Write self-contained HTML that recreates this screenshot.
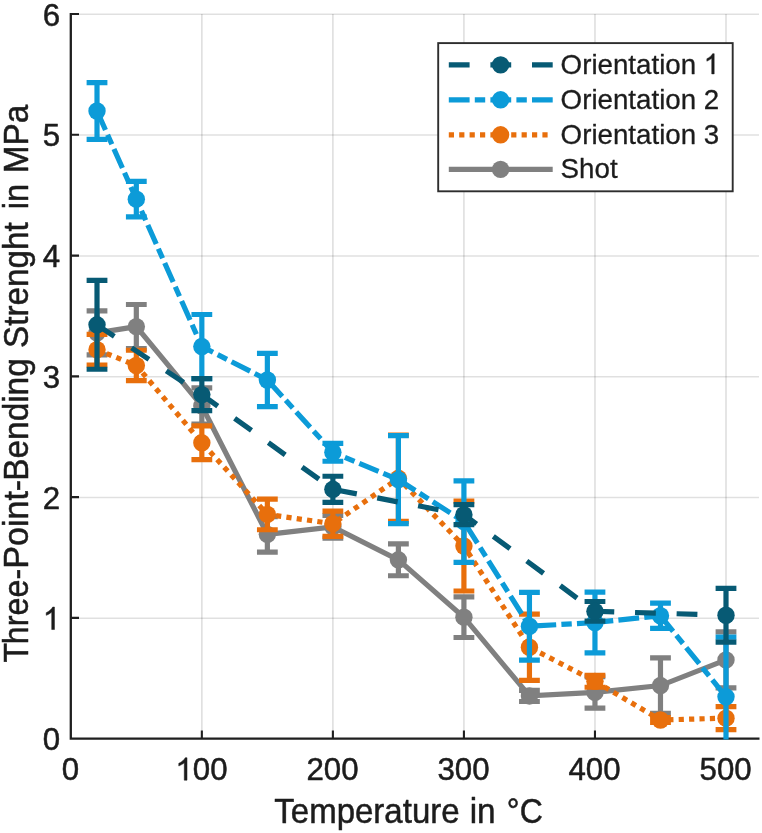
<!DOCTYPE html>
<html><head><meta charset="utf-8"><title>Three-Point-Bending Strength</title>
<style>html,body{margin:0;padding:0;background:#fff;}body{width:762px;height:833px;overflow:hidden;font-family:"Liberation Sans",sans-serif;}</style>
</head><body>
<svg width="762" height="833" viewBox="0 0 762 833" style="display:block">
<rect width="762" height="833" fill="#fff"/>
<defs><filter id="soft" x="0" y="0" width="100%" height="100%" filterUnits="userSpaceOnUse" color-interpolation-filters="sRGB"><feGaussianBlur stdDeviation="0.45"/></filter></defs>
<style>text{stroke:#1c1c1c;stroke-width:0.5px;stroke-linejoin:round}</style>
<g filter="url(#soft)">
<rect width="762" height="833" fill="#fff"/>
<path d="M201.84 14.00V738.70M332.88 14.00V738.70M463.92 14.00V738.70M594.96 14.00V738.70M726.00 14.00V738.70" stroke="#000" stroke-opacity="0.12" stroke-width="1.7" fill="none"/>
<path d="M70.80 618.22H759.00M70.80 497.44H759.00M70.80 376.66H759.00M70.80 255.88H759.00M70.80 135.10H759.00M70.80 14.32H759.00" stroke="#000" stroke-opacity="0.12" stroke-width="1.5" fill="none"/>
<path d="M70.80 13.00V739.70M69.80 738.70H759.50" stroke="#1f1f1f" stroke-width="2.3" fill="none"/>
<path d="M201.84 738.70v-8.2M332.88 738.70v-8.2M463.92 738.70v-8.2M594.96 738.70v-8.2M726.00 738.70v-8.2M70.80 617.92h8.2M70.80 497.14h8.2M70.80 376.36h8.2M70.80 255.58h8.2M70.80 134.80h8.2M70.80 14.02h8.2" stroke="#1f1f1f" stroke-width="2.1" fill="none"/>
<clipPath id="c"><rect x="69.80" y="13.00" width="690.20" height="726.60"/></clipPath>
<g clip-path="url(#c)">
<polyline points="97.01,332.88 136.32,326.60 201.84,405.95 267.36,534.34 332.88,526.85 398.40,559.82 463.92,617.20 529.44,695.94 594.96,692.44 660.48,685.56 726.00,659.95" fill="none" stroke="#808080" stroke-width="5.2"/>
<path d="M97.01 310.90V354.86M86.61 310.90h20.80M86.61 354.86h20.80M136.32 304.50V348.70M125.92 304.50h20.80M125.92 348.70h20.80M201.84 387.83V424.07M191.44 387.83h20.80M191.44 424.07h20.80M267.36 516.59V552.09M256.96 516.59h20.80M256.96 552.09h20.80M332.88 515.50V538.21M322.48 515.50h20.80M322.48 538.21h20.80M398.40 543.88V575.77M388.00 543.88h20.80M388.00 575.77h20.80M463.92 596.90V637.49M453.52 596.90h20.80M453.52 637.49h20.80M529.44 690.39V701.50M519.04 690.39h20.80M519.04 701.50h20.80M594.96 676.74V708.14M584.56 676.74h20.80M584.56 708.14h20.80M660.48 657.78V713.34M650.08 657.78h20.80M650.08 713.34h20.80M726.00 631.93V687.97M715.60 631.93h20.80M715.60 687.97h20.80" stroke="#808080" stroke-width="5.2" fill="none"/>
<circle cx="97.01" cy="332.88" r="8.7" fill="#808080"/>
<circle cx="136.32" cy="326.60" r="8.7" fill="#808080"/>
<circle cx="201.84" cy="405.95" r="8.7" fill="#808080"/>
<circle cx="267.36" cy="534.34" r="8.7" fill="#808080"/>
<circle cx="332.88" cy="526.85" r="8.7" fill="#808080"/>
<circle cx="398.40" cy="559.82" r="8.7" fill="#808080"/>
<circle cx="463.92" cy="617.20" r="8.7" fill="#808080"/>
<circle cx="529.44" cy="695.94" r="8.7" fill="#808080"/>
<circle cx="594.96" cy="692.44" r="8.7" fill="#808080"/>
<circle cx="660.48" cy="685.56" r="8.7" fill="#808080"/>
<circle cx="726.00" cy="659.95" r="8.7" fill="#808080"/>
<polyline points="97.01,349.67 136.32,365.49 201.84,442.79 267.36,514.41 332.88,523.71 398.40,478.30 463.92,546.06 529.44,647.27 594.96,681.33 660.48,719.98 726.00,718.17" fill="none" stroke="#e86f0c" stroke-width="5.2" stroke-dasharray="5.200 5.200"/>
<path d="M97.01 334.33V365.01M86.61 334.33h20.80M86.61 365.01h20.80M136.32 350.27V380.71M125.92 350.27h20.80M125.92 380.71h20.80M201.84 425.88V459.70M191.44 425.88h20.80M191.44 459.70h20.80M267.36 499.07V529.75M256.96 499.07h20.80M256.96 529.75h20.80M332.88 511.03V536.39M322.48 511.03h20.80M322.48 536.39h20.80M398.40 435.18V521.42M388.00 435.18h20.80M388.00 521.42h20.80M463.92 501.13V590.99M453.52 501.13h20.80M453.52 590.99h20.80M529.44 614.18V680.36M519.04 614.18h20.80M519.04 680.36h20.80M594.96 675.41V687.25M584.56 675.41h20.80M584.56 687.25h20.80M660.48 717.56V722.39M650.08 717.56h20.80M650.08 722.39h20.80M726.00 706.69V729.64M715.60 706.69h20.80M715.60 729.64h20.80" stroke="#e86f0c" stroke-width="5.2" fill="none"/>
<circle cx="97.01" cy="349.67" r="8.7" fill="#e86f0c"/>
<circle cx="136.32" cy="365.49" r="8.7" fill="#e86f0c"/>
<circle cx="201.84" cy="442.79" r="8.7" fill="#e86f0c"/>
<circle cx="267.36" cy="514.41" r="8.7" fill="#e86f0c"/>
<circle cx="332.88" cy="523.71" r="8.7" fill="#e86f0c"/>
<circle cx="398.40" cy="478.30" r="8.7" fill="#e86f0c"/>
<circle cx="463.92" cy="546.06" r="8.7" fill="#e86f0c"/>
<circle cx="529.44" cy="647.27" r="8.7" fill="#e86f0c"/>
<circle cx="594.96" cy="681.33" r="8.7" fill="#e86f0c"/>
<circle cx="660.48" cy="719.98" r="8.7" fill="#e86f0c"/>
<circle cx="726.00" cy="718.17" r="8.7" fill="#e86f0c"/>
<polyline points="97.01,111.01 136.32,199.18 201.84,346.53 267.36,379.98 332.88,452.33 398.40,479.63 463.92,521.66 529.44,626.25 594.96,622.51 660.48,615.75 726.00,696.79" fill="none" stroke="#0c9bd8" stroke-width="5.2" stroke-dasharray="20.800 5.200 10.400 5.200"/>
<path d="M97.01 82.62V139.39M86.61 82.62h20.80M86.61 139.39h20.80M136.32 181.42V216.93M125.92 181.42h20.80M125.92 216.93h20.80M201.84 314.52V378.53M191.44 314.52h20.80M191.44 378.53h20.80M267.36 353.41V406.56M256.96 353.41h20.80M256.96 406.56h20.80M332.88 443.39V461.27M322.48 443.39h20.80M322.48 461.27h20.80M398.40 435.54V523.71M388.00 435.54h20.80M388.00 523.71h20.80M463.92 480.96V562.36M453.52 480.96h20.80M453.52 562.36h20.80M529.44 592.44V660.07M519.04 592.44h20.80M519.04 660.07h20.80M594.96 592.07V652.95M584.56 592.07h20.80M584.56 652.95h20.80M660.48 603.06V628.43M650.08 603.06h20.80M650.08 628.43h20.80M726.00 637.12V756.45M715.60 637.12h20.80M715.60 756.45h20.80" stroke="#0c9bd8" stroke-width="5.2" fill="none"/>
<circle cx="97.01" cy="111.01" r="8.7" fill="#0c9bd8"/>
<circle cx="136.32" cy="199.18" r="8.7" fill="#0c9bd8"/>
<circle cx="201.84" cy="346.53" r="8.7" fill="#0c9bd8"/>
<circle cx="267.36" cy="379.98" r="8.7" fill="#0c9bd8"/>
<circle cx="332.88" cy="452.33" r="8.7" fill="#0c9bd8"/>
<circle cx="398.40" cy="479.63" r="8.7" fill="#0c9bd8"/>
<circle cx="463.92" cy="521.66" r="8.7" fill="#0c9bd8"/>
<circle cx="529.44" cy="626.25" r="8.7" fill="#0c9bd8"/>
<circle cx="594.96" cy="622.51" r="8.7" fill="#0c9bd8"/>
<circle cx="660.48" cy="615.75" r="8.7" fill="#0c9bd8"/>
<circle cx="726.00" cy="696.79" r="8.7" fill="#0c9bd8"/>
<polyline points="97.01,324.79 201.84,394.60 332.88,489.29 463.92,514.65 594.96,611.28 726.00,615.26" fill="none" stroke="#075a74" stroke-width="5.2" stroke-dasharray="20.800 20.800"/>
<path d="M97.01 280.34V369.23M86.61 280.34h20.80M86.61 369.23h20.80M201.84 378.65V410.54M191.44 378.65h20.80M191.44 410.54h20.80M332.88 476.25V502.33M322.48 476.25h20.80M322.48 502.33h20.80M463.92 504.63V524.68M453.52 504.63h20.80M453.52 524.68h20.80M594.96 601.49V621.06M584.56 601.49h20.80M584.56 621.06h20.80M726.00 588.33V642.20M715.60 588.33h20.80M715.60 642.20h20.80" stroke="#075a74" stroke-width="5.2" fill="none"/>
<circle cx="97.01" cy="324.79" r="8.7" fill="#075a74"/>
<circle cx="201.84" cy="394.60" r="8.7" fill="#075a74"/>
<circle cx="332.88" cy="489.29" r="8.7" fill="#075a74"/>
<circle cx="463.92" cy="514.65" r="8.7" fill="#075a74"/>
<circle cx="594.96" cy="611.28" r="8.7" fill="#075a74"/>
<circle cx="726.00" cy="615.26" r="8.7" fill="#075a74"/>
</g>
<g font-family="'Liberation Sans', sans-serif" font-size="31.25px" fill="#1c1c1c">
<text x="70.40" y="780.2" text-anchor="middle">0</text>
<text x="201.44" y="780.2" text-anchor="middle"><tspan style="fill:none;stroke:none">1</tspan>00</text>
<text x="332.48" y="780.2" text-anchor="middle">200</text>
<text x="463.52" y="780.2" text-anchor="middle">300</text>
<text x="594.56" y="780.2" text-anchor="middle">400</text>
<text x="725.60" y="780.2" text-anchor="middle">500</text>
<text x="60.2" y="750.30" text-anchor="end">0</text>
<text x="60.2" y="629.52" text-anchor="end"><tspan style="fill:none;stroke:none">1</tspan></text>
<text x="60.2" y="508.74" text-anchor="end">2</text>
<text x="60.2" y="387.96" text-anchor="end">3</text>
<text x="60.2" y="267.18" text-anchor="end">4</text>
<text x="60.2" y="146.40" text-anchor="end">5</text>
<text x="60.2" y="25.62" text-anchor="end">6</text>
</g>
<path transform="translate(175.37 780.20) scale(0.015259 -0.015259)" d="M763 0H583V1147Q518 1085 412.5 1023T223 930V1104Q374 1175 487 1276T647 1472H763Z" fill="#1c1c1c" stroke="#1c1c1c" stroke-width="32.8" stroke-linejoin="round"/>
<path transform="translate(42.82 629.52) scale(0.015259 -0.015259)" d="M763 0H583V1147Q518 1085 412.5 1023T223 930V1104Q374 1175 487 1276T647 1472H763Z" fill="#1c1c1c" stroke="#1c1c1c" stroke-width="32.8" stroke-linejoin="round"/>
<text transform="translate(274.28 823.00) scale(0.9609 1)" font-family="'Liberation Sans', sans-serif" font-size="34.375px" fill="#1c1c1c">Temperature</text>
<text transform="translate(469.72 823.00) scale(0.9689 1)" font-family="'Liberation Sans', sans-serif" font-size="34.375px" fill="#1c1c1c">in</text>
<text transform="translate(506.84 823.00) scale(0.9305 1)" font-family="'Liberation Sans', sans-serif" font-size="34.375px" fill="#1c1c1c">°C</text>
<text transform="translate(27.80 662.60) rotate(-90) scale(0.9282 1)" font-family="'Liberation Sans', sans-serif" font-size="34.375px" fill="#1c1c1c">T</text>
<text transform="translate(27.80 644.21) rotate(-90) scale(0.9399 1)" font-family="'Liberation Sans', sans-serif" font-size="34.375px" fill="#1c1c1c">hree-</text>
<text transform="translate(27.80 568.72) rotate(-90) scale(0.9906 1)" font-family="'Liberation Sans', sans-serif" font-size="34.375px" fill="#1c1c1c">Point-</text>
<text transform="translate(27.80 480.77) rotate(-90) scale(0.9715 1)" font-family="'Liberation Sans', sans-serif" font-size="34.375px" fill="#1c1c1c">Bending</text>
<text transform="translate(27.80 347.95) rotate(-90) scale(0.9684 1)" font-family="'Liberation Sans', sans-serif" font-size="34.375px" fill="#1c1c1c">Strenght</text>
<text transform="translate(27.80 209.23) rotate(-90) scale(0.9467 1)" font-family="'Liberation Sans', sans-serif" font-size="34.375px" fill="#1c1c1c">in</text>
<text transform="translate(27.80 173.27) rotate(-90) scale(0.9691 1)" font-family="'Liberation Sans', sans-serif" font-size="34.375px" fill="#1c1c1c">MPa</text>
<rect x="438.2" y="43.1" width="294.50" height="148.20" fill="#fff" stroke="#2e2e2e" stroke-width="1.9"/>
<path d="M448.8 64.9H552.7" stroke="#075a74" stroke-width="5.2" fill="none" stroke-dasharray="20.800 20.800"/>
<circle cx="500.6" cy="64.9" r="8.7" fill="#075a74"/>
<text transform="translate(560.6 73.90) scale(0.986 1)" font-family="'Liberation Sans', sans-serif" font-size="28.125px" fill="#1c1c1c" style="stroke-width:0.3px">Orientation <tspan style="fill:none;stroke:none">1</tspan></text>
<path transform="translate(703.85 73.90) scale(0.013541 -0.013733)" d="M763 0H583V1147Q518 1085 412.5 1023T223 930V1104Q374 1175 487 1276T647 1472H763Z" fill="#1c1c1c" stroke="#1c1c1c" stroke-width="36.4" stroke-linejoin="round"/>
<path d="M448.8 99.8H552.7" stroke="#0c9bd8" stroke-width="5.2" fill="none" stroke-dasharray="20.800 5.200 10.400 5.200"/>
<circle cx="500.6" cy="99.8" r="8.7" fill="#0c9bd8"/>
<text transform="translate(560.6 108.80) scale(0.986 1)" font-family="'Liberation Sans', sans-serif" font-size="28.125px" fill="#1c1c1c" style="stroke-width:0.3px">Orientation 2</text>
<path d="M448.8 134.8H552.7" stroke="#e86f0c" stroke-width="5.2" fill="none" stroke-dasharray="5.200 5.200"/>
<circle cx="500.6" cy="134.8" r="8.7" fill="#e86f0c"/>
<text transform="translate(560.6 143.80) scale(0.986 1)" font-family="'Liberation Sans', sans-serif" font-size="28.125px" fill="#1c1c1c" style="stroke-width:0.3px">Orientation 3</text>
<path d="M448.8 169.4H552.7" stroke="#808080" stroke-width="5.2" fill="none"/>
<circle cx="500.6" cy="169.4" r="8.7" fill="#808080"/>
<text transform="translate(560.6 178.40) scale(0.986 1)" font-family="'Liberation Sans', sans-serif" font-size="28.125px" fill="#1c1c1c" style="stroke-width:0.3px">Shot</text>
</g>
</svg>
</body></html>
